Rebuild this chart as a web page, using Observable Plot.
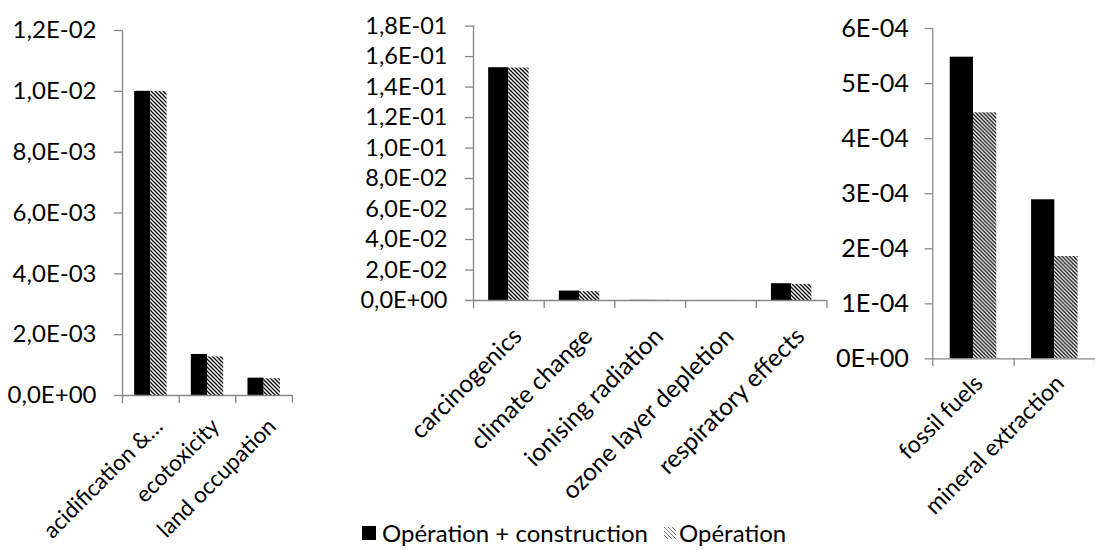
<!DOCTYPE html>
<html>
<head>
<meta charset="utf-8">
<script src="https://cdn.jsdelivr.net/npm/d3@7"></script>
<script src="https://cdn.jsdelivr.net/npm/@observablehq/plot@0.6"></script>
<style>
  html, body { margin: 0; padding: 0; background: #ffffff; }
  #wrap { position: relative; width: 1095px; height: 550px; overflow: hidden; background: #fff; font-family: Lato, "Open Sans", sans-serif; color: #000; }
  .panel { position: absolute; top: 0; }
  .panel svg { overflow: visible; }
  #legend { position: absolute; display: flex; align-items: center; white-space: nowrap; font-family: Lato, sans-serif; color: #000; }
</style>
</head>
<body>
<svg width="0" height="0" style="position:absolute">
  <defs>
    <pattern id="hatch" patternUnits="userSpaceOnUse" width="4" height="4">
      <rect width="4" height="4" fill="#ffffff"></rect>
      <path d="M-1,-1 L5,5 M3,-1 L5,1 M-1,3 L1,5" stroke="#000" stroke-width="1.3"></path>
    </pattern>
    <pattern id="hatchLight" patternUnits="userSpaceOnUse" width="4" height="4">
      <rect width="4" height="4" fill="#ffffff"></rect>
      <path d="M-1,-1 L5,5 M3,-1 L5,1 M-1,3 L1,5" stroke="#666" stroke-width="0.9"></path>
    </pattern>
  </defs>
</svg>
<div id="wrap">
  <div class="panel" id="p1" style="left:0px"></div>
  <div class="panel" id="p2" style="left:300px"></div>
  <div class="panel" id="p3" style="left:840px"></div>
  <div id="legend" style="left:362px; top:518px"></div>
</div>
<script>
// ---------- DATA ----------
const seriesNames = ["Opération + construction", "Opération"];

// Panel 1
const cats1 = ["acidification &…", "ecotoxicity", "land occupation"];
const opConstr1 = [0.0100, 0.00135, 0.00057];
const op1 = [0.0100, 0.00127, 0.00055];
const yTicks1 = [0, 0.002, 0.004, 0.006, 0.008, 0.010, 0.012];

// Panel 2
const cats2 = ["carcinogenics", "climate change", "ionising radiation", "ozone layer depletion", "respiratory effects"];
const opConstr2 = [0.1527, 0.0062, 0.0001, 0.00001, 0.0110];
const op2 = [0.1525, 0.0058, 0.0001, 0.00001, 0.0106];
const yTicks2 = [0, 0.02, 0.04, 0.06, 0.08, 0.10, 0.12, 0.14, 0.16, 0.18];

// Panel 3
const cats3 = ["fossil fuels", "mineral extraction"];
const opConstr3 = [0.000548, 0.000289];
const op3 = [0.000447, 0.000186];
const yTicks3 = [0, 0.0001, 0.0002, 0.0003, 0.0004, 0.0005, 0.0006];

// ---------- HELPERS ----------
const AXIS_GRAY = "#868686";
const seriesFills = ["#000000", "url(#hatch)"];
const gapWidth = 1.5;                    // Excel-style gap width (150%)
const barFrac = 1 / (2 + gapWidth);      // each bar's share of a category
const offFrac = (gapWidth / 2) * barFrac;

function sciFormat(digits) {
  return v => {
    const [m, e] = v.toExponential(digits).split("e");
    const ei = +e;
    return m.replace(".", ",") + "E" + (ei < 0 ? "-" : "+") + String(Math.abs(ei)).padStart(2, "0");
  };
}

function rowsOf(cats, a, b) {
  return cats.flatMap((c, i) => [
    {cat: c, i, s: 0, v: a[i]},
    {cat: c, i, s: 1, v: b[i]}
  ]);
}

function panel(cfg) {
  const n = cfg.cats.length;
  const rows = rowsOf(cfg.cats, cfg.a, cfg.b);
  return Plot.plot({
    width: cfg.width,
    height: cfg.height,
    marginLeft: cfg.ml,
    marginRight: cfg.mr,
    marginTop: cfg.mt,
    marginBottom: cfg.mb,
    style: {fontFamily: "Lato, sans-serif", color: "#000", background: "transparent", overflow: "visible"},
    x: {type: "linear", domain: [0, n]},
    y: {domain: [0, cfg.yTicks[cfg.yTicks.length - 1]], label: null},
    marks: [
      Plot.rect(rows, {
        x1: d => d.i + offFrac + d.s * barFrac,
        x2: d => d.i + offFrac + (d.s + 1) * barFrac,
        y1: d => 0,
        y2: "v",
        fill: d => seriesFills[d.s]
      }),
      Plot.ruleY([0], {stroke: AXIS_GRAY, strokeWidth: 1.3}),
      Plot.ruleX([0], {stroke: AXIS_GRAY, strokeWidth: 1.3}),
      Plot.axisX({ticks: d3.range(n + 1), tickSize: 8, tickFormat: () => "", stroke: AXIS_GRAY, strokeWidth: 1.3, label: null}),
      Plot.axisY({ticks: cfg.yTicks, tickSize: 8, tickPadding: cfg.tickPad, tickFormat: sciFormat(cfg.digits),
                  fontSize: cfg.tickFont, stroke: AXIS_GRAY, strokeWidth: 1.3, label: null}),
      Plot.text(cfg.cats, {
        x: (d, i) => i + 0.5,
        frameAnchor: "bottom",
        text: d => d,
        rotate: -45,
        textAnchor: "end",
        lineAnchor: "top",
        dx: cfg.ldx,
        dy: cfg.ldy,
        fontSize: cfg.catFont,
        fill: "#000"
      })
    ]
  });
}

document.getElementById("p1").appendChild(panel({
  cats: cats1, a: opConstr1, b: op1, yTicks: yTicks1, digits: 1,
  width: 300, height: 550, ml: 122, mr: 8, mt: 30, mb: 155,
  tickPad: 18, tickFont: 24, catFont: 22.5, ldx: 2, ldy: 21
}));
document.getElementById("p2").appendChild(panel({
  cats: cats2, a: opConstr2, b: op2, yTicks: yTicks2, digits: 1,
  width: 540, height: 550, ml: 173, mr: 13.5, mt: 25.6, mb: 250,
  tickPad: 18, tickFont: 23.5, catFont: 24.5, ldx: 2, ldy: 25
}));
document.getElementById("p3").appendChild(panel({
  cats: cats3, a: opConstr3, b: op3, yTicks: yTicks3, digits: 0,
  width: 268, height: 550, ml: 97, mr: 0, mt: 29.5, mb: 173.3,
  tickPad: 17, tickFont: 26.5, catFont: 24.5, ldx: -1, ldy: 15
}));

// ---------- LEGEND ----------
const legend = d3.select("#legend").style("font-size", "24px");
const swatchFills = ["#000000", "url(#hatchLight)"];
const swatchSizes = [14, 12];
seriesNames.forEach((name, k) => {
  const sw = legend.append("svg")
    .attr("width", swatchSizes[k]).attr("height", swatchSizes[k])
    .style("margin-left", k === 0 ? "0px" : "16px")
    .style("margin-right", k === 0 ? "6px" : "3px");
  sw.append("rect").attr("width", swatchSizes[k]).attr("height", swatchSizes[k]).attr("fill", swatchFills[k]);
  legend.append("span").text(name);
});
</script>
</body>
</html>
